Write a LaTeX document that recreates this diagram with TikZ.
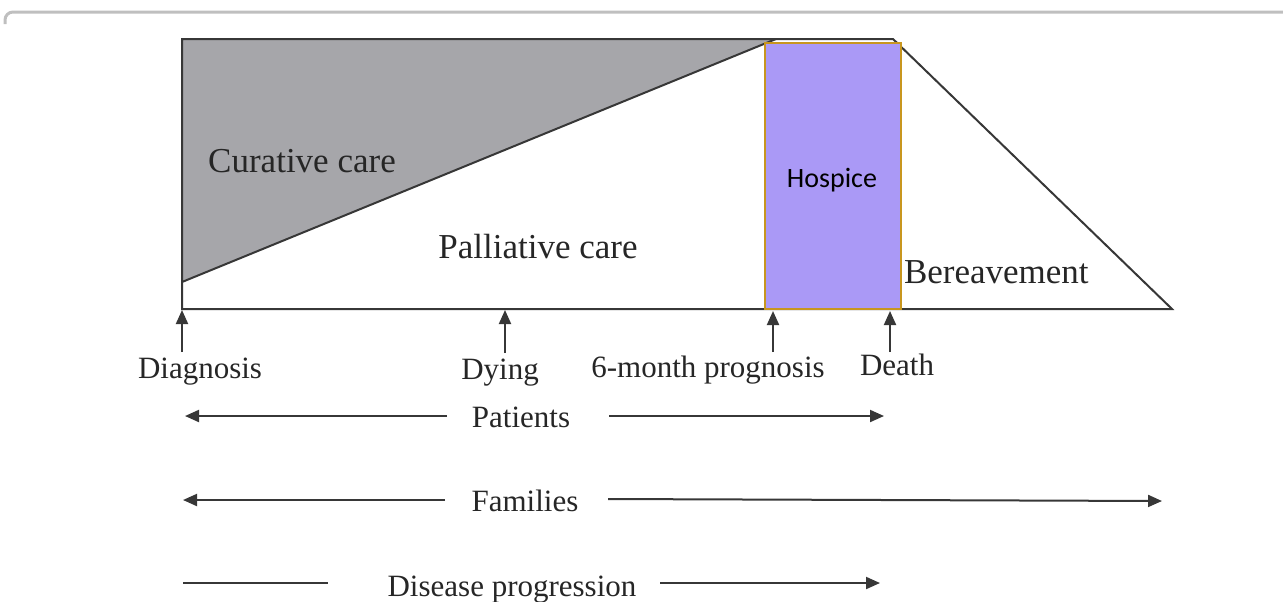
\documentclass[tikz,border=0pt]{standalone}
\usepackage{fontspec}
\setmainfont{Liberation Serif}
\newfontfamily\hospfont{Carlito}
\usetikzlibrary{arrows.meta}
\definecolor{curgray}{RGB}{166,166,170}
\definecolor{hosplav}{RGB}{170,153,246}
\definecolor{hospedge}{RGB}{200,150,30}
\definecolor{inkgray}{RGB}{55,55,55}

\begin{document}
\begin{tikzpicture}[x=0.5pt,y=-0.5pt,line width=1pt,
  bigtxt/.style={anchor=base,inner sep=0pt,font=\fontsize{17.5}{20}\selectfont,text=black!85},
  smalltxt/.style={anchor=base,inner sep=0pt,font=\fontsize{15.5}{18}\selectfont,text=black!85},
  uparr/.style={draw=inkgray,-{Triangle[length=7pt,width=6pt]}},
  rowarr/.style={draw=inkgray,-{Triangle[length=7pt,width=6pt]}}]
\useasboundingbox (0,0) rectangle (1283,601);
% frame line at the top
\draw[black!25,line width=1.5pt,rounded corners=4pt] (5,24)--(5,12)--(1283,12);
% curative wedge
\fill[curgray] (182,39)--(776,39)--(182,282)--cycle;
\draw[inkgray] (182,282)--(776,39);
% outline
\draw[inkgray] (182,309)--(182,39)--(893,39)--(1172,309)--cycle;
% hospice box
\node[draw=hospedge,fill=hosplav,line width=1.2pt,minimum width=68pt,minimum height=133pt,inner sep=0pt] (hospbox) at (833,176) {};
\node[anchor=base,inner sep=0pt,font=\hospfont\fontsize{14}{16}\selectfont] (hospice) at (832,187) {Hospice};
\node[bigtxt] (curative) at (302,172) {Curative care};
\node[bigtxt] (palliative) at (538,258) {Palliative care};
\node[bigtxt,anchor=base west] (bereave) at (903,283) {Bereavement};
% milestones
\coordinate (diagtip) at (182,310);
\coordinate (diagtail) at (182,352);
\coordinate (dyingtip) at (505,310);
\coordinate (dyingtail) at (505,353);
\coordinate (progtip) at (773,311);
\coordinate (progtail) at (773,352);
\coordinate (deathtip) at (890,311);
\coordinate (deathtail) at (890,352);
\draw[uparr] (diagtail)--(diagtip);
\draw[uparr] (dyingtail)--(dyingtip);
\draw[uparr] (progtail)--(progtip);
\draw[uparr] (deathtail)--(deathtip);
\node[smalltxt] (diagnosis) at (200,378) {Diagnosis};
\node[smalltxt] (dying) at (500,379) {Dying};
\node[smalltxt] (prognosis) at (708,377) {6-month prognosis};
\node[smalltxt] (death) at (897,375) {Death};
% who is cared for
\node[smalltxt] (patients) at (521,427) {Patients};
\coordinate (patL) at (185,416);
\coordinate (patLs) at (447,416);
\coordinate (patRs) at (609,416);
\coordinate (patR) at (884,416);
\draw[rowarr] (patLs)--(patL);
\draw[rowarr] (patRs)--(patR);
\node[smalltxt] (families) at (525,511) {Families};
\coordinate (famL) at (183,500);
\coordinate (famLs) at (445,500);
\coordinate (famRs) at (608,499);
\coordinate (famR) at (1162,501);
\draw[rowarr] (famLs)--(famL);
\draw[rowarr] (famRs)--(famR);
\node[smalltxt] (disease) at (512,596) {Disease progression};
\coordinate (disL) at (183,583);
\coordinate (disLs) at (328,583);
\coordinate (disRs) at (660,583);
\coordinate (disR) at (880,583);
\draw[inkgray] (disL)--(disLs);
\draw[rowarr] (disRs)--(disR);
\end{tikzpicture}
\end{document}
